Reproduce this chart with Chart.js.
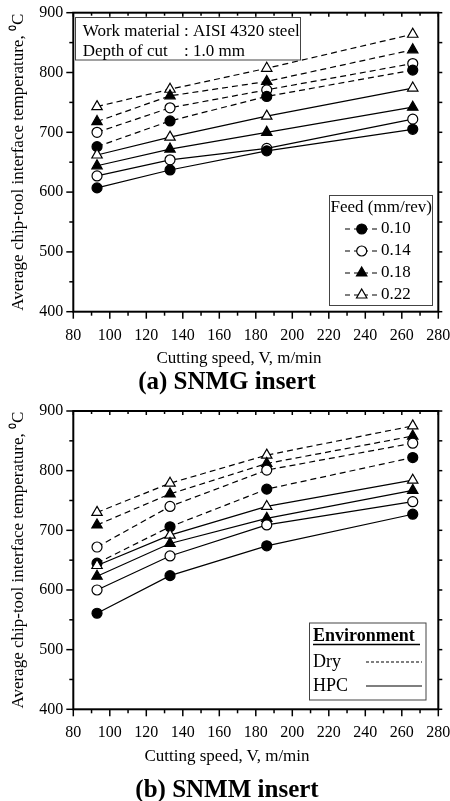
<!DOCTYPE html>
<html><head><meta charset="utf-8">
<script src="https://cdn.jsdelivr.net/npm/chart.js@4.4.0/dist/chart.umd.min.js"></script>
<style>
html,body{margin:0;padding:0;background:#fff;}
#wrap{position:relative;width:450px;height:801px;overflow:hidden;font-family:'Liberation Serif','Times New Roman',serif;color:#000;}
canvas{position:absolute;left:0;}
.t{position:absolute;white-space:nowrap;transform:translate(-50%,-50%);line-height:1;}
</style></head><body>
<div id="wrap">
<canvas id="c1" width="450" height="400" style="top:0"></canvas>
<canvas id="c2" width="450" height="401" style="top:400px"></canvas>
<div class="t" style="left:239px;top:357px;font-size:17px">Cutting speed, V, m/min</div>
<div class="t" style="left:227px;top:380px;font-size:25px;font-weight:bold">(a) SNMG insert</div>
<div class="t" style="left:227px;top:755px;font-size:17px">Cutting speed, V, m/min</div>
<div class="t" style="left:227px;top:788px;font-size:25px;font-weight:bold">(b) SNMM insert</div>
</div>
<script>
// ---- data ----
const speeds = [93, 133, 186, 266];
const feeds = ['0.10', '0.14', '0.18', '0.22'];
const xTicks = [80, 100, 120, 140, 160, 180, 200, 220, 240, 260, 280];
const yTicks = [400, 500, 600, 700, 800, 900];

// (a) SNMG insert
const snmgDry010 = [676, 719, 760, 804];
const snmgDry014 = [700, 741, 771, 815];
const snmgDry018 = [718, 761, 785, 838];
const snmgDry022 = [743, 772, 807, 864];
const snmgHpc010 = [607, 637, 669, 705];
const snmgHpc014 = [627, 654, 673, 722];
const snmgHpc018 = [644, 672, 700, 742];
const snmgHpc022 = [662, 692, 727, 774];

// (b) SNMM insert
const snmmDry010 = [645, 706, 769, 822];
const snmmDry014 = [672, 740, 801, 846];
const snmmDry018 = [709, 761, 812, 858];
const snmmDry022 = [730, 779, 826, 875];
const snmmHpc010 = [561, 624, 674, 727];
const snmmHpc014 = [600, 657, 709, 748];
const snmmHpc018 = [623, 678, 720, 767];
const snmmHpc022 = [641, 692, 740, 784];

// ---- styles ----
const F = "'Liberation Serif','Times New Roman',serif";
const markers = [
  {pointStyle: 'circle', fill: '#000', r: 5},
  {pointStyle: 'circle', fill: '#fff', r: 5},
  {pointStyle: 'triangle', fill: '#000', r: 6},
  {pointStyle: 'triangle', fill: '#fff', r: 6}
];
const DASH = [6, 4];

function ds(label, vals, m, dashed) {
  return {
    label: label,
    data: speeds.map((s, i) => ({x: s, y: vals[i]})),
    borderColor: '#000', borderWidth: 1.2,
    borderDash: dashed ? DASH : [],
    pointStyle: m.pointStyle, pointRadius: m.r,
    pointBackgroundColor: m.fill, pointBorderColor: '#000', pointBorderWidth: 1.2,
    fill: false, tension: 0
  };
}
function datasets(dry, hpc) {
  const out = [];
  hpc.forEach((v, i) => out.push(ds('HPC ' + feeds[i], v, markers[i], false)));
  dry.forEach((v, i) => out.push(ds('Dry ' + feeds[i], v, markers[i], true)));
  return out;
}

function line(ctx, x1, y1, x2, y2) { ctx.beginPath(); ctx.moveTo(x1, y1); ctx.lineTo(x2, y2); ctx.stroke(); }
function marker(ctx, m, x, y) {
  ctx.save();
  ctx.setLineDash([]);
  ctx.lineWidth = 1.2; ctx.strokeStyle = '#000'; ctx.fillStyle = m.fill;
  if (Chart.helpers && Chart.helpers.drawPoint) {
    Chart.helpers.drawPoint(ctx, {pointStyle: m.pointStyle, radius: m.r, rotation: 0, borderWidth: 1.2}, x, y);
  } else {
    ctx.beginPath(); ctx.arc(x, y, m.r, 0, Math.PI * 2); ctx.fill(); ctx.stroke();
  }
  ctx.restore();
}

function framePlugin(extra) {
  return {
    id: 'frame',
    afterDraw(chart) {
      const ctx = chart.ctx, a = chart.chartArea, x = chart.scales.x, y = chart.scales.y;
      ctx.save();
      ctx.strokeStyle = '#000';
      ctx.setLineDash([]);
      ctx.lineWidth = 1.5;
      for (let v = x.min; v <= x.max; v += 10) {
        const px = x.getPixelForValue(v), major = (v - x.min) % 20 === 0;
        line(ctx, px, a.bottom, px, a.bottom + (major ? 7 : 4));
        line(ctx, px, a.top, px, a.top + (major ? 4 : 3));
      }
      for (let v = y.min; v <= y.max; v += 50) {
        const py = y.getPixelForValue(v), major = (v - y.min) % 100 === 0;
        line(ctx, a.left, py, a.left - (major ? 7 : 4), py);
        line(ctx, a.right, py, a.right + 4, py);
      }
      ctx.lineWidth = 2;
      ctx.strokeRect(a.left, a.top, a.right - a.left, a.bottom - a.top);
      ctx.restore();
      extra(ctx);
    }
  };
}

function options(xAxisH, top) {
  return {
    responsive: false, animation: false, devicePixelRatio: 1,
    layout: {padding: {left: 0, right: 11.7, top: top, bottom: 0}},
    plugins: {legend: {display: false}, tooltip: {enabled: false}},
    scales: {
      x: {
        type: 'linear', min: xTicks[0], max: xTicks[xTicks.length - 1],
        afterFit(s) { s.height = xAxisH; s.paddingLeft = 0; s.paddingRight = 0; },
        afterBuildTicks(s) { s.ticks = xTicks.map(v => ({value: v})); },
        ticks: {color: '#000', font: {family: F, size: 16}, padding: 14, maxRotation: 0, autoSkip: false},
        grid: {display: false, drawTicks: false}, border: {display: false}
      },
      y: {
        type: 'linear', min: yTicks[0], max: yTicks[yTicks.length - 1],
        afterFit(s) { s.width = 73.3; s.paddingTop = 0; s.paddingBottom = 0; },
        afterBuildTicks(s) { s.ticks = yTicks.map(v => ({value: v})); },
        ticks: {color: '#000', font: {family: F, size: 16}, padding: 10},
        title: {display: true, text: 'Average chip-tool interface temperature, \u2070C', color: '#000',
                font: {family: F, size: 17}, padding: {top: 8, bottom: 0}},
        grid: {display: false, drawTicks: false}, border: {display: false}
      }
    }
  };
}

function drawLegendA(ctx) {
  ctx.save();
  ctx.strokeStyle = '#444'; ctx.lineWidth = 1;
  ctx.strokeRect(75.5, 17.5, 225, 42.5);
  ctx.strokeRect(329.5, 195.5, 103, 110);
  ctx.fillStyle = '#000'; ctx.textBaseline = 'middle'; ctx.textAlign = 'left';
  ctx.font = '17px ' + F;
  ctx.fillText('Work material', 82.7, 32);
  ctx.fillText(': AISI 4320 steel', 184, 32);
  ctx.fillText('Depth of cut', 82.7, 51.5);
  ctx.fillText(': 1.0 mm', 184, 51.5);
  ctx.fillText('Feed (mm/rev)', 330.5, 208);
  ctx.lineWidth = 1.2; ctx.strokeStyle = '#000';
  feeds.forEach((f, i) => {
    const yy = 229 + i * 22;
    ctx.setLineDash([5, 4]);
    line(ctx, 345, yy, 378, yy);
    ctx.setLineDash([]);
    marker(ctx, markers[i], 361.7, yy);
    ctx.fillText(f, 381, yy);
  });
  ctx.restore();
}

function drawLegendB(ctx) {
  ctx.save();
  ctx.strokeStyle = '#444'; ctx.lineWidth = 1;
  ctx.strokeRect(309.5, 223, 116.5, 77);
  ctx.fillStyle = '#000'; ctx.textBaseline = 'middle'; ctx.textAlign = 'left';
  ctx.font = 'bold 18px ' + F;
  ctx.fillText('Environment', 313, 236);
  ctx.strokeStyle = '#000'; ctx.lineWidth = 1.5;
  line(ctx, 313, 244.5, 420, 244.5);
  ctx.font = '18px ' + F;
  ctx.fillText('Dry', 313, 262);
  ctx.fillText('HPC', 313, 286);
  ctx.lineWidth = 1.2;
  ctx.setLineDash([3, 2]);
  line(ctx, 366, 262, 422, 262);
  ctx.setLineDash([]);
  line(ctx, 366, 286, 422, 286);
  ctx.restore();
}

new Chart(document.getElementById('c1'), {
  type: 'line',
  data: {datasets: datasets([snmgDry010, snmgDry014, snmgDry018, snmgDry022],
                            [snmgHpc010, snmgHpc014, snmgHpc018, snmgHpc022])},
  options: options(400 - 311.7, 12.7),
  plugins: [framePlugin(drawLegendA)]
});

new Chart(document.getElementById('c2'), {
  type: 'line',
  data: {datasets: datasets([snmmDry010, snmmDry014, snmmDry018, snmmDry022],
                            [snmmHpc010, snmmHpc014, snmmHpc018, snmmHpc022])},
  options: options(401 - 309.3, 11),
  plugins: [framePlugin(drawLegendB)]
});
</script>
</body></html>
